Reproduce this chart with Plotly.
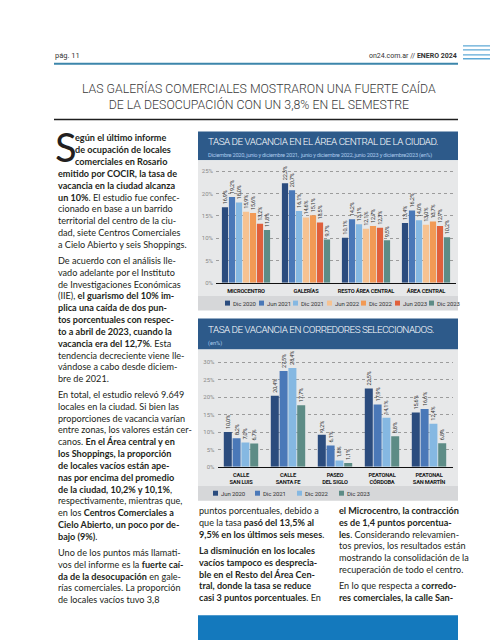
import plotly.graph_objects as go

W, H = 498, 640

# ---------------- data ----------------
areas = ["MICROCENTRO", "GALERÍAS", "RESTO ÁREA CENTRAL", "ÁREA CENTRAL"]
periods_area = ["Dic 2020", "Jun 2021", "Dic 2021", "Jun 2022", "Dic 2022", "Jun 2023", "Dic 2023"]
area_dic2020 = [16.9, 22.3, 10.1, 13.4]
area_jun2021 = [19.2, 20.7, 14.2, 16.2]
area_dic2021 = [18.0, 16.1, 13.1, 14.0]
area_jun2022 = [15.9, 14.6, 12.1, 13.0]
area_dic2022 = [15.6, 15.1, 12.7, 13.7]
area_jun2023 = [13.2, 13.5, 12.3, 12.7]
area_dic2023 = [11.8, 9.7, 9.5, 10.2]
area_ticks = [0, 5, 10, 15, 20, 25]

corridors = ["CALLE<br>SAN LUIS", "CALLE<br>SANTA FE", "PASEO<br>DEL SIGLO", "PEATONAL<br>CÓRDOBA", "PEATONAL<br>SAN MARTÍN"]
periods_corr = ["Jun 2020", "Dic 2021", "Dic 2022", "Dic 2023"]
corr_jun2020 = [10.0, 20.4, 9.2, 22.5, 15.6]
corr_dic2021 = [8.2, 27.5, 6.1, 17.9, 16.6]
corr_dic2022 = [7.0, 28.4, 1.8, 14.1, 12.4]
corr_dic2023 = [6.7, 17.7, 1.1, 8.8, 6.8]
corr_ticks = [0, 5, 10, 15, 20, 25, 30]

# ---------------- style ----------------
COL_AREA = ["#2b4c7e", "#4a78b8", "#85b8e2", "#f6c291", "#f29a55", "#e0603c", "#5d8c86"]
COL_CORR = ["#2b4c7e", "#4a78b8", "#85b8e2", "#5d8c86"]
NARROW = "Roboto, 'Noto Sans', sans-serif"
BODY = "Lato, 'Noto Sans', sans-serif"
HEAD = "Roboto, Lato, sans-serif"
NAVY = "#2d5a8a"
PLOTBG = "#e7e8e9"
LEGBG = "#d6d7d9"


def px(x):
    return x / W


def py(y):
    return 1 - y / H


def tight(s, ls):
    return f"<span style='letter-spacing:{ls}px'>{s}</span>"


def fmt(v):
    return tight(f"{v:.1f}%".replace(".", ","), -0.1)


shapes = []
annotations = []


def rect(x0, y0, x1, y1, color, layer="below"):
    shapes.append(dict(type="rect", xref="paper", yref="paper",
                       x0=px(x0), x1=px(x1), y0=py(y1), y1=py(y0),
                       fillcolor=color, line=dict(width=0), layer=layer))


def hline(x0, x1, y, color, width):
    shapes.append(dict(type="line", xref="paper", yref="paper",
                       x0=px(x0), x1=px(x1), y0=py(y), y1=py(y),
                       line=dict(color=color, width=width)))


def text(x, y, s, size, color="#231f20", family=BODY, xanchor="left",
         yanchor="middle", align="left", weight=None):
    font = dict(size=size, color=color, family=family)
    if weight:
        font["weight"] = weight
    annotations.append(dict(x=px(x), y=py(y), xref="paper", yref="paper", text=s,
                            showarrow=False, xanchor=xanchor, yanchor=yanchor,
                            align=align, font=font, borderpad=0))


fig = go.Figure()

# ---------------- chart 1 bars ----------------
area_series = [area_dic2020, area_jun2021, area_dic2021, area_jun2022,
               area_dic2022, area_jun2023, area_dic2023]
unit1 = 60.0
slot1 = 7.0 / unit1
bw1 = 6.2 / unit1
n1 = len(area_series)
for i, (name, vals, col) in enumerate(zip(periods_area, area_series, COL_AREA)):
    off = -n1 * slot1 / 2 + i * slot1 + (slot1 - bw1) / 2
    fig.add_trace(go.Bar(
        x=areas, y=vals, name=name, width=bw1, offset=off,
        marker=dict(color=col, line=dict(width=0)),
        text=[fmt(v) for v in vals], textposition="outside", textangle=-90,
        textfont=dict(size=5.6, color="#333333", family=NARROW),
        constraintext="none", cliponaxis=False, xaxis="x", yaxis="y",
        hoverinfo="skip"))

# ---------------- chart 2 bars ----------------
corr_series = [corr_jun2020, corr_dic2021, corr_dic2022, corr_dic2023]
unit2 = 47.0
slot2 = 8.8 / unit2
bw2 = 8.0 / unit2
n2 = len(corr_series)
for i, (name, vals, col) in enumerate(zip(periods_corr, corr_series, COL_CORR)):
    off = -n2 * slot2 / 2 + i * slot2 + (slot2 - bw2) / 2
    fig.add_trace(go.Bar(
        x=corridors, y=vals, name=name, width=bw2, offset=off,
        marker=dict(color=col, line=dict(width=0)),
        text=[fmt(v) for v in vals], textposition="outside", textangle=-90,
        textfont=dict(size=5.6, color="#333333", family=NARROW),
        constraintext="none", cliponaxis=False, xaxis="x2", yaxis="y2",
        hoverinfo="skip"))

# ---------------- page decorations ----------------
# header
text(46, 48, "pág. 11", 7.5, "#333333", HEAD)
text(450, 48, "on24.com.ar // <b>ENERO 2024</b>", 7, "#333333", HEAD, xanchor="right")
hline(46, 450, 56, "#3c86ab", 2)
for yy in (38, 42, 47, 51):
    hline(455, 498, yy, "#5ea9d6", 1.3)

# title
text(251, 89, "LAS GALERÍAS COMERCIALES MOSTRARON UNA FUERTE CAÍDA<br>DE LA DESOCUPACIÓN CON UN 3,8% EN EL SEMESTRE",
     12.3, "#3a3a3a", HEAD, xanchor="center", align="center", weight=300)
hline(46, 450, 112, "#1e1e1e", 1.5)

# chart 1 frame
rect(190, 124, 450, 153, NAVY)
rect(190, 153, 450, 289, PLOTBG)
rect(190, 289, 450, 304, LEGBG)
text(199, 134, tight("TASA DE VACANCIA EN EL ÁREA CENTRAL DE LA CIUDAD.", -0.5),
     9.9, "#ffffff", NARROW, weight=300)
text(199, 148, tight("Diciembre 2020, junio y diciembre 2021,  junio y diciembre 2022, junio 2023 y diciembre2023 (en%)",
                     -0.25), 5.7, "#a9c9ea", NARROW)
for i, (name, col) in enumerate(zip(periods_area, COL_AREA)):
    x0 = 217 + 34 * i
    rect(x0, 294, x0 + 5, 299, col, layer="above")
    text(x0 + 7, 296.5, tight(name, -0.1), 6, "#333333", NARROW)

# chart 2 frame
rect(190, 312, 450, 343, NAVY)
rect(190, 343, 450, 480, PLOTBG)
rect(190, 480, 450, 495, LEGBG)
text(199, 323, tight("TASA DE VACANCIA EN CORREDORES SELECCIONADOS.", -0.5),
     9.9, "#ffffff", NARROW, weight=300)
text(199, 337, "(en%)", 5.7, "#a9c9ea", NARROW)
for i, (name, col) in enumerate(zip(periods_corr, COL_CORR)):
    x0 = 205 + 42 * i
    rect(x0, 485, x0 + 5, 490, col, layer="above")
    text(x0 + 7, 487.5, tight(name, -0.1), 6, "#333333", NARROW)

# bottom blue block
rect(190, 610, 450, 640, "#1479bd")

# ---------------- body text ----------------
FS = 9.1
L = 11.8
GAP = 5
text(45.5, 140, "S", 40, "#231f20", BODY)
text(66, 124, "<b>egún el último informe</b><br><b>de ocupación de locales</b><br><b>comerciales en Rosario</b>",
     FS, yanchor="top")
text(49, 124 + 3 * L,
     "<b>emitido por COCIR, la tasa de</b><br><b>vacancia en la ciudad alcanza</b><br>"
     "<b>un 10%</b>. El estudio fue confec-<br>cionado en base a un barrido<br>"
     "territorial del centro de la ciu-<br>dad, siete Centros Comerciales<br>"
     "a Cielo Abierto y seis Shoppings.", FS, yanchor="top")
y2 = 124 + 10 * L + GAP
text(49, y2,
     "De acuerdo con el análisis lle-<br>vado adelante por el Instituto<br>"
     "de Investigaciones Económicas<br>(IIE), <b>el guarismo del 10% im-</b><br>"
     "<b>plica una caída de dos pun-</b><br><b>tos porcentuales con respec-</b><br>"
     "<b>to a abril de 2023, cuando la</b><br><b>vacancia era del 12,7%</b>. Esta<br>"
     "tendencia decreciente viene lle-<br>vándose a cabo desde diciem-<br>bre de 2021.",
     FS, yanchor="top")
y3 = y2 + 11 * L + GAP
text(49, y3,
     "En total, el estudio relevó 9.649<br>locales en la ciudad. Si bien las<br>"
     "proporciones de vacancia varían<br>entre zonas, los valores están cer-<br>"
     "canos. <b>En el Área central y en</b><br><b>los Shoppings, la proporción</b><br>"
     "<b>de locales vacíos están ape-</b><br><b>nas por encima del promedio</b><br>"
     "<b>de la ciudad, 10,2% y 10,1%</b>,<br>respectivamente, mientras que,<br>"
     "en los <b>Centros Comerciales a</b><br><b>Cielo Abierto, un poco por de-</b><br>"
     "<b>bajo (9%)</b>.", FS, yanchor="top")
y4 = y3 + 13 * L + GAP
text(49, y4,
     "Uno de los puntos más llamati-<br>vos del informe es la <b>fuerte caí-</b><br>"
     "<b>da de la desocupación</b> en gale-<br>rías comerciales. La proporción<br>"
     "de locales vacíos tuvo 3,8", FS, yanchor="top")

ym = 498
text(190, ym,
     "puntos porcentuales, debido a<br>que la tasa <b>pasó del 13,5% al</b><br>"
     "<b>9,5% en los últimos seis meses</b>.", FS, yanchor="top")
text(190, ym + 3 * L + GAP,
     "<b>La disminución en los locales</b><br><b>vacíos tampoco es desprecia-</b><br>"
     "<b>ble en el Resto del Área Cen-</b><br><b>tral, donde la tasa se reduce</b><br>"
     "<b>casi 3 puntos porcentuales</b>. En", FS, yanchor="top")
text(330, ym,
     "<b>el Microcentro, la contracción</b><br><b>es de 1,4 puntos porcentua-</b><br>"
     "<b>les</b>. Considerando relevamien-<br>tos previos, los resultados están<br>"
     "mostrando la consolidación de la<br>recuperación de todo el centro.", FS, yanchor="top")
text(330, ym + 6 * L + GAP,
     "En lo que respecta a <b>corredo-</b><br><b>res comerciales, la calle San-</b>",
     FS, yanchor="top")

# ---------------- axes ----------------
axis_tick_font = dict(size=6, color="#8a8a8a", family=NARROW)
cat_font = dict(size=5.7, color="#1a1a1a", family=NARROW, weight="bold")

fig.update_layout(
    width=W, height=H,
    margin=dict(l=0, r=0, t=0, b=0),
    paper_bgcolor="#ffffff",
    plot_bgcolor="rgba(0,0,0,0)",
    showlegend=False,
    barmode="overlay",
    shapes=shapes,
    annotations=annotations,
    xaxis=dict(domain=[px(208), px(448)], range=[-0.5, 3.5], anchor="y",
               tickvals=areas, ticktext=[tight(a, -0.2) for a in areas], tickangle=0,
               showline=True, linecolor="#111111", linewidth=1, showgrid=False,
               ticks="", tickfont=cat_font, ticklabelstandoff=2, fixedrange=True),
    yaxis=dict(domain=[py(276), py(155)], range=[0, 27], anchor="x",
               tickvals=area_ticks, ticktext=[f"{t}%" for t in area_ticks],
               showgrid=True,
               gridcolor="#9c9c9c", griddash="dot", gridwidth=0.7, zeroline=False,
               showline=False, ticks="", tickfont=axis_tick_font,
               ticklabelstandoff=2, fixedrange=True),
    xaxis2=dict(domain=[px(209.5), px(444.5)], range=[-0.5, 4.5], anchor="y2",
                tickvals=corridors, ticktext=[tight(c, -0.2) for c in corridors], tickangle=0,
                showline=True, linecolor="#111111", linewidth=1, showgrid=False,
                ticks="", tickfont=cat_font, ticklabelstandoff=2, fixedrange=True),
    yaxis2=dict(domain=[py(461), py(345)], range=[0, (461 - 345) / 3.5], anchor="x2",
                tickvals=corr_ticks, ticktext=[f"{t}%" for t in corr_ticks],
                showgrid=True,
                gridcolor="#9c9c9c", griddash="dot", gridwidth=0.7, zeroline=False,
                showline=False, ticks="", tickfont=axis_tick_font,
                ticklabelstandoff=2, fixedrange=True),
)

fig.write_html("out.html", config={"displayModeBar": False})
